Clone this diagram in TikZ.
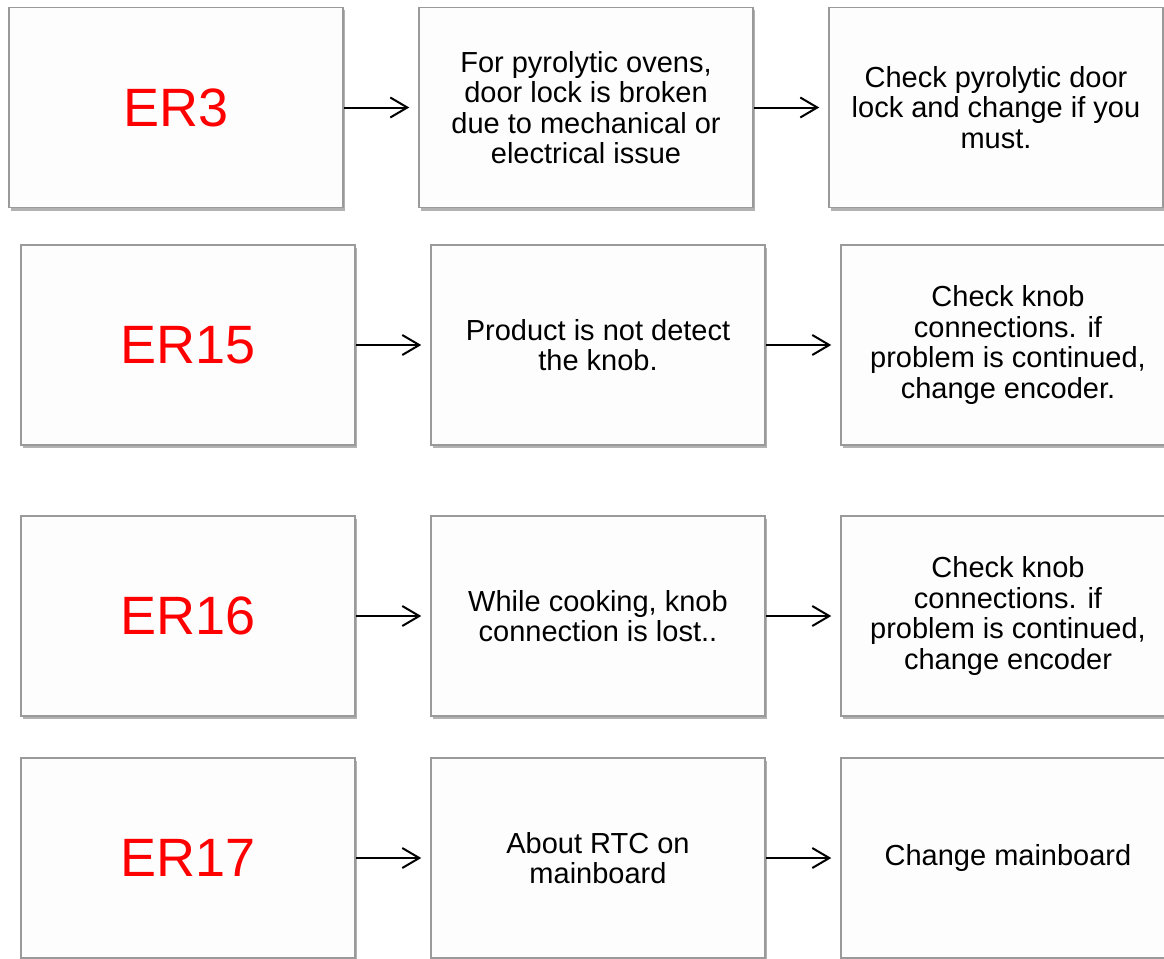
\documentclass[tikz,border=0pt]{standalone}
\usepackage{fontspec}
\setmainfont{Liberation Sans}
\usetikzlibrary{arrows.meta,shadows}
\definecolor{boxline}{HTML}{9A9A9A}
\definecolor{boxfill}{HTML}{FDFDFD}
\definecolor{ercol}{HTML}{FF0000}
\tikzset{
  box/.style={draw=boxline, line width=1.5pt, fill=boxfill, minimum width=334pt, minimum height=200pt,
    inner sep=0pt, align=center, font=\fontsize{29}{30.5}\selectfont,
    drop shadow={shadow xshift=2pt, shadow yshift=-3pt, fill=black, opacity=0.3}},
  erbox/.style={box, text=ercol, font=\fontsize{54}{60}\selectfont},
  conn/.style={line width=2pt, -{Straight Barb[length=17pt,width=20pt,line width=2pt]}},
}
\begin{document}
\begin{tikzpicture}[x=1pt,y=-1pt]
\useasboundingbox (0,0) rectangle (1164,958);
\clip (0,0) rectangle (1164,958);
\fill[white] (0,0) rectangle (1164,958);
% Row 1
\node[erbox] (a1) at (176,107.5) {ER3};
\node[box] (b1) at (586,107.5) {For pyrolytic ovens,\\door lock is broken\\due to mechanical or\\electrical issue};
\node[box] (c1) at (996,107.5) {Check pyrolytic door\\lock and change if you\\must.};
% Row 2
\node[erbox] (a2) at (188,345) {ER15};
\node[box] (b2) at (598,345) {Product is not detect\\the knob.};
\node[box] (c2) at (1008,345) {Check knob\\connections. if\\problem is continued,\\change encoder.};
% Row 3
\node[erbox] (a3) at (188,616) {ER16};
\node[box] (b3) at (598,616) {While cooking, knob\\connection is lost..};
\node[box] (c3) at (1008,616) {Check knob\\connections. if\\problem is continued,\\change encoder};
% Row 4
\node[erbox] (a4) at (188,858) {ER17};
\node[box] (b4) at (598,858) {About RTC on\\mainboard};
\node[box] (c4) at (1008,858) {Change mainboard};
% Connectors
\foreach \r in {1,2,3,4}{
  \draw[conn] (a\r.east) -- ([xshift=-9pt]b\r.west);
  \draw[conn] (b\r.east) -- ([xshift=-9pt]c\r.west);
}
\end{tikzpicture}
\end{document}
